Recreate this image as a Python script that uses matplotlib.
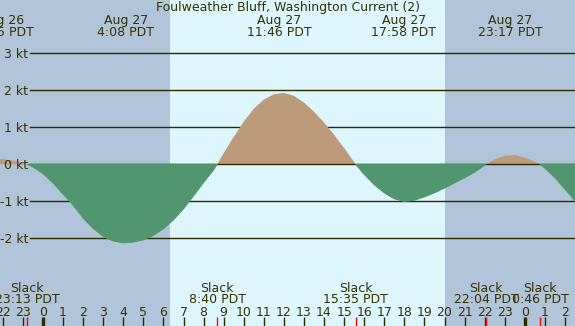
import numpy as np
import matplotlib
matplotlib.use('Agg')
import matplotlib.pyplot as plt
import matplotlib.transforms as mtransforms

# hours counted from Aug 27 00:00 PDT
hours = [-2.5, -2.0, -1.5, -1.0, -0.78, -0.5, 0.0, 0.5, 1.0, 1.5, 2.0, 2.5, 3.0, 3.5,
         4.0, 4.5, 5.0, 5.5, 6.0, 6.5, 7.0, 7.5, 8.0, 8.5, 8.67, 9.0, 9.5, 10.0,
         10.5, 11.0, 11.5, 12.0, 12.5, 13.0, 13.5, 14.0, 14.5, 15.0, 15.58, 16.0,
         16.5, 17.0, 17.5, 18.0, 18.5, 19.0, 19.5, 20.0, 20.5, 21.0, 21.5, 22.07,
         22.5, 23.0, 23.5, 24.0, 24.5, 24.77, 25.0, 25.5, 26.0, 26.5, 27.0]
speed = [0.13, 0.14, 0.10, 0.04, 0.0, -0.07, -0.25, -0.50, -0.80, -1.10, -1.45, -1.73, -1.95, -2.07,
         -2.12, -2.10, -2.04, -1.92, -1.74, -1.50, -1.20, -0.85, -0.49, -0.15, 0.0, 0.30, 0.74, 1.15,
         1.50, 1.75, 1.89, 1.93, 1.85, 1.67, 1.42, 1.13, 0.80, 0.44, 0.0, -0.27,
         -0.55, -0.77, -0.93, -1.00, -0.97, -0.88, -0.77, -0.64, -0.50, -0.36, -0.21, 0.0,
         0.13, 0.23, 0.25, 0.18, 0.07, 0.0, -0.10, -0.36, -0.67, -0.98, -1.25]

peak_hours = [-2.05, 4.13, 11.77, 17.97, 23.28]
peak_days = ['Aug 26', 'Aug 27', 'Aug 27', 'Aug 27', 'Aug 27']
peak_times = ['21:55 PDT', '4:08 PDT', '11:46 PDT', '17:58 PDT', '23:17 PDT']

slack_hours = [-0.78, 8.67, 15.58, 22.07, 24.77]
slack_times = ['23:13 PDT', '8:40 PDT', '15:35 PDT', '22:04 PDT', '0:46 PDT']

levels = [3, 2, 1, 0, -1, -2]
sunrise, sunset = 6.32, 20.02
title = 'Foulweather Bluff, Washington Current (2)'

night = '#b0c4da'
day = '#ddf6fe'
green = '#52966f'
brown = '#bc9b7a'
ink = '#333300'

fig = plt.figure(figsize=(5.75, 3.26), dpi=100)
ax = fig.add_axes([0, 0, 1, 1])
x0, x1 = -2.14, 26.5
ax.set_xlim(x0, x1)
ax.set_ylim(-4.37, 4.44)
ax.axis('off')

ax.axvspan(x0, sunrise, color=night, zorder=0, lw=0)
ax.axvspan(sunrise, sunset, color=day, zorder=0, lw=0)
ax.axvspan(sunset, x1, color=night, zorder=0, lw=0)

h = np.array(hours)
v = np.array(speed)

# grid lines
for lv in levels:
    z = 2.5 if lv == 0 else 1
    ax.axhline(lv, xmin=0.052, xmax=1, color='#2b2b00', lw=1.0, zorder=z)
    ax.text(0.049, lv - 0.12, f'{lv} kt', transform=mtransforms.blended_transform_factory(ax.transAxes, ax.transData),
            ha='right', va='baseline', fontsize=9, color=ink, zorder=5)

ax.fill_between(h, 0, v, where=v >= 0, interpolate=True, color=brown, lw=0, zorder=2)
ax.fill_between(h, 0, v, where=v <= 0, interpolate=True, facecolor=green, edgecolor=green, lw=0.8, zorder=3)

tr = ax.get_xaxis_transform()

# title and peak labels
ax.text(0.5, 0.9653, title, transform=ax.transAxes, ha='center', va='baseline', fontsize=9, color=ink, zorder=5)
for ph, d, t in zip(peak_hours, peak_days, peak_times):
    ax.text(ph, 0.9264, d, transform=tr, ha='center', va='baseline', fontsize=9, color=ink, zorder=5)
    ax.text(ph, 0.8905, t, transform=tr, ha='center', va='baseline', fontsize=9, color=ink, zorder=5)

# slack labels
for sh, t in zip(slack_hours, slack_times):
    ax.text(sh, 0.105, 'Slack', transform=tr, ha='center', va='baseline', fontsize=9, color=ink, zorder=5)
    ax.text(sh, 0.0696, t, transform=tr, ha='center', va='baseline', fontsize=9, color=ink, zorder=5)

# hour ticks
for hr in range(-2, 27):
    ax.text(hr, 0.0307, str(hr % 24), transform=tr, ha='center', va='baseline', fontsize=9, color=ink, zorder=5)
    lw = 2.4 if hr % 24 == 0 else 1.0
    ax.plot([hr, hr], [0, 0.0276], transform=tr, color='#2b2b00', lw=lw, solid_capstyle='butt', zorder=4)
for sh in slack_hours:
    ax.plot([sh, sh], [0, 0.0276], transform=tr, color='red', lw=1.0, solid_capstyle='butt', zorder=4)

fig.savefig('out.png', dpi=100)
